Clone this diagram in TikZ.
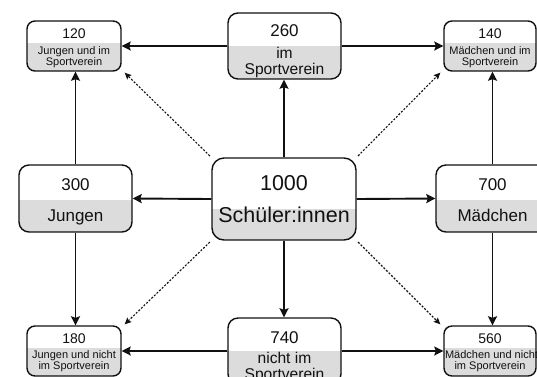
\documentclass[tikz,border=0pt]{standalone}
\usepackage{fontspec}
\setmainfont{Liberation Sans}
\usetikzlibrary{arrows.meta}
\definecolor{boxgray}{HTML}{DCDCDC}
\definecolor{linec}{HTML}{111111}
\begin{document}
\begin{tikzpicture}[x=1pt,y=-1pt,
  box/.style={draw=linec, line width=1.4pt, rounded corners=8pt, fill=white, inner sep=0pt,
    path picture={\fill[boxgray, sharp corners] (path picture bounding box.south west) rectangle ([yshift=-#1]path picture bounding box.north east);}},
  bigtxt/.style={font=\fontsize{21.5}{22}\selectfont, inner sep=0pt, anchor=base, text=linec},
  midtxt/.style={font=\fontsize{17}{17}\selectfont, inner sep=0pt, anchor=base, text=linec},
  numtxt/.style={font=\fontsize{17}{17}\selectfont, inner sep=0pt, anchor=base, text=linec},
  lbltxt/.style={font=\fontsize{15.6}{16}\selectfont, inner sep=0pt, anchor=base, text=linec},
  smnum/.style={font=\fontsize{14}{14}\selectfont, inner sep=0pt, anchor=base, text=linec},
  smtxt/.style={font=\fontsize{11}{11}\selectfont, inner sep=0pt, anchor=base, text=linec},
  arr/.style={draw=linec, line width=1.9pt, -{Stealth[length=9pt,width=9pt,inset=1.5pt]}},
  darr/.style={draw=linec, line width=1.1pt, dash pattern=on 2pt off 1.6pt, -{Stealth[length=6.5pt,width=6pt,inset=1pt]}, shorten <=2pt}
]
\useasboundingbox[fill=white] (0,0) rectangle (537,376);

% boxes
\node[box=22pt, minimum width=94pt, minimum height=50pt] (A) at (74,46) {};
\node[box=33pt, minimum width=113pt, minimum height=66pt, rounded corners=10pt] (B) at (284.5,46) {};
\node[box=22pt, minimum width=92pt, minimum height=50pt] (C) at (490,46) {};
\node[box=35pt, minimum width=113pt, minimum height=67pt, rounded corners=10pt] (L) at (75.5,198.5) {};
\node[box=51pt, minimum width=144pt, minimum height=82pt, rounded corners=12pt] (M) at (284,199) {};
\node[box=35pt, minimum width=113pt, minimum height=67pt, rounded corners=10pt] (R) at (492.5,198.5) {};
\node[box=22pt, minimum width=94pt, minimum height=50pt] (D) at (74,351) {};
\node[box=33pt, minimum width=113pt, minimum height=66pt, rounded corners=10pt] (E) at (284.5,351) {};
\node[box=22pt, minimum width=92pt, minimum height=50pt] (F) at (490,351) {};

% texts
\node[smnum] (tA1) at (74,38.5) {120};
\node[smtxt] (tA2) at (74,54) {Jungen und im};
\node[smtxt] (tA3) at (74,65.5) {Sportverein};
\node[midtxt] (tB1) at (284.5,36) {260};
\node[lbltxt] (tB2) at (284.5,58) {im};
\node[lbltxt] (tB3) at (284.5,74.5) {Sportverein};
\node[smnum] (tC1) at (490,38.5) {140};
\node[smtxt] (tC2) at (490,54) {Mädchen und im};
\node[smtxt] (tC3) at (490,65.5) {Sportverein};

\node[numtxt] (tL1) at (75.5,190) {300};
\node[midtxt] (tL2) at (75.5,221) {Jungen};
\node[bigtxt] (tM1) at (284,190) {1000};
\node[bigtxt] (tM2) at (284,222.5) {Schüler:innen};
\node[numtxt] (tR1) at (492.5,190) {700};
\node[midtxt] (tR2) at (492.5,221) {Mädchen};

\node[smnum] (tD1) at (74,343.5) {180};
\node[smtxt] (tD2) at (74,358) {Jungen und nicht};
\node[smtxt] (tD3) at (74,369.5) {im Sportverein};
\node[midtxt] (tE1) at (284.5,343) {740};
\node[lbltxt] (tE2) at (284.5,363) {nicht im};
\node[lbltxt] (tE3) at (284.5,379.5) {Sportverein};
\node[smnum] (tF1) at (490,343.5) {560};
\node[smtxt] (tF2) at (491.5,358) {Mädchen und nicht};
\node[smtxt] (tF3) at (490,369.5) {im Sportverein};

% solid arrows
\draw[arr] (B.west) -- (A.east);
\draw[arr] (B.east) -- (C.west);
\draw[arr] (M.west) -- (L.east);
\draw[arr] (M.east) -- (R.west);
\draw[arr] (E.west) -- (D.east);
\draw[arr] (E.east) -- (F.west);
\draw[arr] (M.north) -- (M.north |- B.south);
\draw[arr] (M.south) -- (M.south |- E.north);
\draw[arr] (L.north) -- (L.north |- A.south);
\draw[arr] (L.south) -- (L.south |- D.north);
\draw[arr] (R.north) -- (R.north |- C.south);
\draw[arr] (R.south) -- (R.south |- F.north);

% dashed arrows
\draw[darr] (M.north west) -- ([xshift=3pt,yshift=-1pt]A.south east);
\draw[darr] (M.north east) -- ([xshift=-3pt,yshift=-1pt]C.south west);
\draw[darr] (M.south west) -- ([xshift=3pt,yshift=1pt]D.north east);
\draw[darr] (M.south east) -- ([xshift=-3pt,yshift=1pt]F.north west);
\end{tikzpicture}
\end{document}
